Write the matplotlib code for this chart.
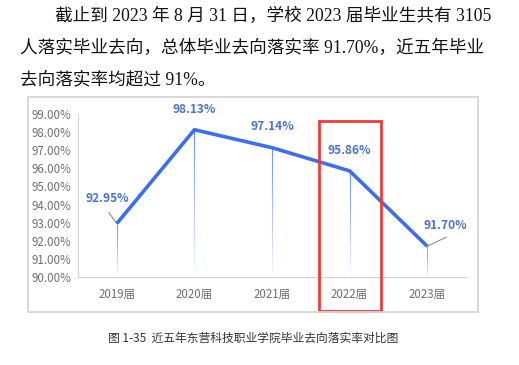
import numpy as np
import matplotlib
matplotlib.use("Agg")
import matplotlib.pyplot as plt
from matplotlib.patches import Rectangle
from matplotlib.collections import LineCollection
import matplotlib.transforms as mtransforms

categories = ["2019届", "2020届", "2021届", "2022届", "2023届"]
rates = [92.95, 98.13, 97.14, 95.86, 91.70]
rate_labels = ["92.95%", "98.13%", "97.14%", "95.86%", "91.70%"]
yticks = [90, 91, 92, 93, 94, 95, 96, 97, 98, 99]
highlight = "2022届"

para_lines = [
    "截止到 2023 年 8 月 31 日，学校 2023 届毕业生共有 3105",
    "人落实毕业去向，总体毕业去向落实率 91.70%，近五年毕业",
    "去向落实率均超过 91%。",
]
caption = "图 1-35  近五年东营科技职业学院毕业去向落实率对比图"

W, H = 519, 365
fig = plt.figure(figsize=(W / 100, H / 100), dpi=100)
fig.patch.set_facecolor("white")

def fx(px):
    return px / W

def fy(py):
    return 1 - py / H

serif = ["Liberation Serif", "Noto Sans CJK SC"]
sans = ["Noto Sans CJK SC", "DejaVu Sans"]

# paragraph
fig.text(fx(55), fy(16), para_lines[0], family=serif, fontsize=12.7, va="center", ha="left", color="#111111")
fig.text(fx(20), fy(48), para_lines[1], family=serif, fontsize=12.7, va="center", ha="left", color="#111111")
fig.text(fx(20), fy(80), para_lines[2], family=serif, fontsize=12.7, va="center", ha="left", color="#111111")

# chart frame
frame = Rectangle((fx(28), fy(312)), fx(478) - fx(28), fy(97) - fy(312),
                  transform=fig.transFigure, fill=False, edgecolor="#d6d6d6", lw=1.3)
fig.patches.append(frame)

ax = fig.add_axes([fx(78), fy(277), fx(466) - fx(78), fy(114) - fy(277)])
x = np.arange(len(categories))
ax.set_xlim(-0.5, len(categories) - 0.5)
ax.set_ylim(90, 99)

ax.set_yticks(yticks)
ax.set_yticklabels([f"{v:.2f}%" for v in yticks])
ax.set_xticks(x)
ax.set_xticklabels(categories)
ax.tick_params(axis="both", length=0, labelcolor="#707070", labelsize=8.3)
ax.tick_params(axis="y", pad=5)
ax.tick_params(axis="x", pad=8)
for lab in ax.get_xticklabels() + ax.get_yticklabels():
    lab.set_family(sans)
for s in ["top", "right"]:
    ax.spines[s].set_visible(False)
ax.spines["left"].set_color("#d9d9d9")
ax.spines["bottom"].set_color("#d0d0d0")
ax.spines["left"].set_linewidth(0.8)
ax.spines["bottom"].set_linewidth(0.8)

# gradient drop lines
n = 30
for xi, v in zip(x, rates):
    ys = np.linspace(v, 90, n + 1)
    segs = [[(xi, ys[i]), (xi, ys[i + 1])] for i in range(n)]
    alphas = np.linspace(0.8, 0.04, n)
    cols = [(0.24, 0.44, 0.94, a) for a in alphas]
    ax.add_collection(LineCollection(segs, colors=cols, linewidths=0.8, zorder=2))

ax.plot(x, rates, color="#3b6ff0", lw=2.6, zorder=4, solid_joinstyle="miter",
        solid_capstyle="butt")

offsets = [(-9, 25), (0, 20), (0, 21), (0, 20), (18, 21)]
leaders = {0: (-8, 11), 4: (19, 9)}
for i, (v, lab) in enumerate(zip(rates, rate_labels)):
    ax.annotate(lab, (x[i], v), xytext=offsets[i], textcoords="offset pixels",
                ha="center", va="center", fontsize=8.6, fontweight="bold",
                color="#4a72d6", family=["Noto Sans CJK SC", "DejaVu Sans"],
                annotation_clip=False)
    if i in leaders:
        ax.annotate("", (x[i], v), xytext=leaders[i], textcoords="offset pixels",
                    arrowprops=dict(arrowstyle="-", color="#8c8c8c", lw=0.8,
                                    shrinkA=0, shrinkB=0), annotation_clip=False)

# red highlight box
hi = categories.index(highlight)
trans = mtransforms.blended_transform_factory(ax.transData, fig.transFigure)
box = Rectangle((hi - 0.4, fy(311)), 0.8, fy(121) - fy(311), transform=trans,
                fill=False, edgecolor="#f23a3a", lw=2.0, clip_on=False, zorder=6)
ax.add_patch(box)

fig.text(fx(253), fy(338), caption, family=sans, fontsize=8.5, ha="center",
         va="center", color="#333333")

fig.savefig("out.png", dpi=100, facecolor="white")
